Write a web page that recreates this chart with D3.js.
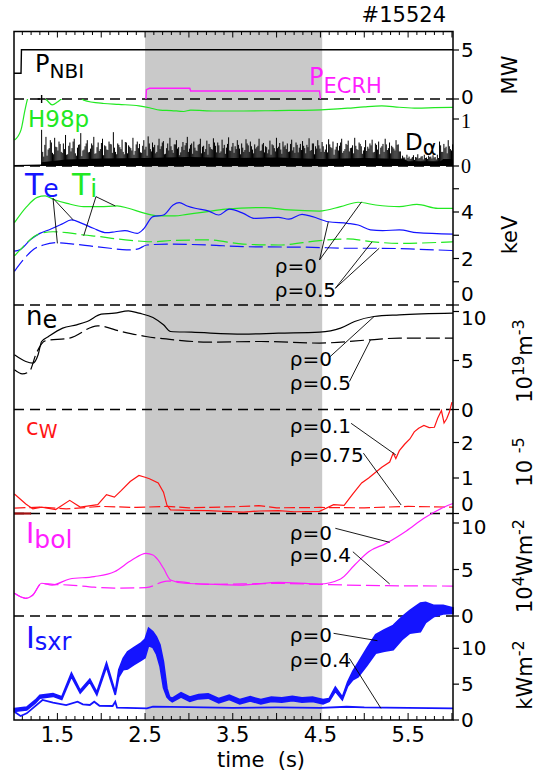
<!DOCTYPE html>
<html>
<head>
<meta charset="utf-8">
<script src="https://cdn.jsdelivr.net/npm/d3@7"></script>
<style>
	body { margin: 0; background: #fff; }
	svg { display: block; }
	text { font-family: "DejaVu Sans", sans-serif; }
</style>
</head>
<body>
<svg id="fig"></svg>
<script>

// ============================================================================== //
// DATA ========================================================================= //
// ============================================================================== //

// heating power (MW)
var pNBI = [[1.005, 2.62], [1.085, 2.62], [1.09, 5.03], [3.0, 5.02], [6.012, 5.02]];
var pECRH = [[2.51, 0], [2.515, 0.95], [2.55, 1.09], [3.01, 1.1], [3.02, 0.82], [4.49, 0.82], [4.5, 0]];

// confinement factor
var h98p = [[1.01, 0.55], [1.085, 0.77], [1.13, 1.19], [1.16, 1.43], [1.2, 1.6], [1.3, 1.5], [1.38, 1.40],
	[1.44, 1.30], [1.5, 1.36], [1.54, 1.42], [1.6, 1.5], [1.7, 1.5], [1.78, 1.43], [1.80, 1.40], [2.03, 1.33],
	[2.2, 1.31], [2.43, 1.28], [2.55, 1.24], [2.67, 1.19], [2.8, 1.18], [2.94, 1.16], [3.02, 1.19], [3.3, 1.17],
	[3.62, 1.17], [4.0, 1.18], [4.42, 1.19], [4.81, 1.23], [5.0, 1.26], [5.20, 1.28], [5.4, 1.25], [5.60, 1.23],
	[5.8, 1.24], [6.012, 1.25]];

// D-alpha spikes (a.u.), from 1.32 s every 0.0248 s, second set half a step later
var dalphaStart = 1.32, dalphaStep = 0.0248;
var dalpha = [77, 20, 62, 35, 55, 28, 60, 40, 52, 30,
	48, 66, 25, 50, 38, 58, 22, 45, 70, 33,
	42, 55, 30, 48, 62, 27, 50, 36, 58, 44,
	35, 52, 46, 72, 30, 48, 40, 56, 25, 50,
	44, 38, 60, 32, 52, 47, 28, 55, 41, 63,
	36, 50, 45, 30, 58, 42, 53, 26, 48, 60,
	34, 46, 55, 40, 29, 51, 44, 62, 37, 48,
	52, 33, 45, 58, 41, 30, 54, 47, 36, 59,
	43, 50, 28, 56, 45, 39, 61, 32, 49, 42,
	55, 37, 48, 30, 57, 44, 52, 35, 46, 40,
	58, 33, 49, 42, 27, 54, 46, 38, 60, 41,
	35, 52, 44, 48, 31, 56, 40, 50, 29, 47,
	53, 38, 45, 59, 34, 48, 42, 55, 37, 51,
	30, 46, 57, 40, 52, 35, 49, 43, 58, 32,
	47, 54, 38, 44, 60, 36, 50, 42, 33, 55,
	41, 48, 56, 30, 45, 52, 39, 47, 58, 34,
	50, 43, 37, 55, 46, 31, 22, 18, 24, 20,
	16, 23, 19, 25, 17, 21, 24, 18, 22, 20,
	23, 19, 24, 52, 30, 47, 41, 55, 36, 46].map(d => d / 100);
var dalpha2 = [30, 45, 22, 38, 50, 25, 41, 33, 47, 28,
	36, 24, 43, 31, 52, 27, 39, 46, 21, 35,
	48, 29, 37, 44, 26, 40, 32, 49, 23, 42,
	34, 47, 28, 39, 25, 45, 36, 30, 51, 27,
	41, 33, 24, 46, 38, 29, 43, 35, 22, 48,
	31, 40, 27, 44, 36, 50, 25, 38, 33, 42,
	28, 46, 37, 23, 41, 34, 49, 30, 45, 26,
	39, 32, 47, 27, 43, 36, 24, 40, 35, 50,
	29, 44, 31, 38, 26, 47, 33, 41, 28, 36,
	45, 25, 39, 34, 48, 30, 42, 27, 37, 43,
	32, 46, 29, 40, 35, 24, 44, 31, 38, 49,
	26, 41, 36, 30, 47, 33, 28, 45, 39, 34,
	43, 27, 40, 32, 48, 25, 37, 44, 30, 42,
	35, 29, 46, 38, 24, 41, 33, 50, 28, 36,
	45, 31, 39, 27, 43, 34, 47, 26, 40, 32,
	37, 44, 29, 48, 35, 25, 42, 30, 46, 38,
	27, 40, 33, 45, 31, 16, 18, 14, 17, 15,
	19, 13, 18, 16, 20, 14, 17, 15, 19, 16,
	18, 14, 17, 44, 30, 38, 27, 42, 33].map(d => d / 100);
var dalphaFloor = [[1.005, 0.02], [1.315, 0.03], [1.32, 0.08], [1.6, 0.14], [2.0, 0.16], [2.5, 0.17], [3.0, 0.19],
	[3.5, 0.17], [4.0, 0.18], [4.5, 0.15], [5.0, 0.17], [5.45, 0.15], [5.5, 0.1], [5.87, 0.1], [5.9, 0.15], [6.012, 0.15]];

// temperatures (keV)
var tiCore = [[1.01, 3.54], [1.15, 4.23], [1.27, 4.63], [1.36, 4.69], [1.45, 4.55], [1.61, 4.37], [1.80, 4.23],
	[1.99, 4.23], [2.18, 4.26], [2.31, 4.16], [2.50, 3.94], [2.65, 3.83], [2.84, 3.83], [2.98, 3.90],
	[3.15, 3.98], [3.42, 4.12], [3.86, 4.19], [4.14, 4.09], [4.49, 4.04], [4.73, 4.23], [4.93, 4.42],
	[5.13, 4.30], [5.40, 4.23], [5.60, 4.33], [5.84, 4.16], [6.012, 4.16]];
var teCore = [[1.01, 2.32], [1.07, 2.37], [1.19, 2.80], [1.30, 3.08], [1.42, 3.26], [1.55, 3.48], [1.66, 3.66],
	[1.78, 3.51], [1.91, 3.30], [2.06, 3.11], [2.16, 3.15], [2.27, 3.20], [2.41, 3.08], [2.48, 3.26],
	[2.59, 3.80], [2.71, 3.87], [2.82, 4.30], [2.89, 4.40], [2.98, 4.26], [3.07, 4.16], [3.22, 4.05],
	[3.34, 3.87], [3.46, 4.12], [3.62, 3.94], [3.74, 3.73], [4.02, 3.77], [4.14, 3.69], [4.29, 3.90],
	[4.41, 3.80], [4.59, 3.58], [4.81, 3.51], [4.93, 3.44], [5.07, 3.23], [5.21, 3.20], [5.40, 3.23],
	[5.60, 3.11], [6.012, 3.05]];
var tiMid = [[1.01, 2.11], [1.11, 2.51], [1.23, 2.94], [1.34, 3.11], [1.45, 3.15], [1.61, 3.11], [1.80, 3.01],
	[1.99, 2.94], [2.18, 2.84], [2.37, 2.77], [2.56, 2.72], [2.83, 2.78], [3.22, 2.80], [3.62, 2.62],
	[4.02, 2.58], [4.49, 2.77], [4.81, 2.84], [5.09, 2.72], [5.40, 2.65], [6.012, 2.72]];
var teMid = [[1.01, 1.45], [1.11, 1.94], [1.23, 2.40], [1.34, 2.58], [1.49, 2.68], [1.68, 2.62], [1.87, 2.54],
	[2.10, 2.44], [2.29, 2.37], [2.41, 2.40], [2.52, 2.58], [2.75, 2.62], [3.22, 2.58], [3.62, 2.51],
	[4.41, 2.48], [4.81, 2.44], [5.17, 2.44], [5.60, 2.40], [6.012, 2.34]];

// density (1e19 m^-3)
var neCore = [[1.01, 5.58], [1.14, 4.90], [1.22, 4.73], [1.28, 5.58], [1.32, 6.94], [1.40, 7.45], [1.56, 8.30],
	[1.72, 8.64], [1.84, 8.98], [2.0, 9.73], [2.15, 9.83], [2.31, 10.07], [2.43, 9.83], [2.59, 9.39],
	[2.71, 8.64], [2.79, 7.96], [3.03, 7.89], [3.62, 7.69], [4.02, 7.79], [4.49, 7.89], [4.73, 8.30],
	[4.89, 8.98], [5.11, 9.49], [5.40, 9.66], [6.012, 9.83]];
var neMid = [[1.01, 4.05], [1.10, 3.64], [1.18, 3.88], [1.26, 5.75], [1.36, 7.01], [1.64, 7.29], [1.96, 8.54],
	[2.23, 7.96], [2.51, 7.45], [2.83, 7.11], [3.22, 6.88], [3.82, 6.94], [4.49, 6.78], [5.07, 7.11],
	[5.40, 7.29], [6.012, 7.29]];

// tungsten concentration (1e-5)
var cwCore = [[1.01, 0.55], [1.14, 0.27], [1.22, 0.13], [1.32, 0.18], [1.48, 0.11], [1.64, 0.37], [1.76, 0.18],
	[1.96, 0.25], [2.06, 0.53], [2.15, 0.46], [2.23, 0.65], [2.33, 0.9], [2.43, 1.07], [2.50, 1.02],
	[2.55, 0.98], [2.65, 0.86], [2.71, 0.6], [2.75, 0.23], [2.79, 0.10], [3.0, 0.09], [3.22, 0.08],
	[3.4, 0.06], [3.62, 0.04], [3.8, 0.07], [4.02, 0.08], [4.2, 0.05], [4.49, 0.06], [4.65, 0.25],
	[4.77, 0.23], [4.87, 0.55], [4.97, 0.86], [5.05, 1.0], [5.13, 1.16], [5.2, 1.3], [5.29, 1.45],
	[5.33, 1.7], [5.36, 1.55], [5.40, 1.77], [5.46, 1.95], [5.52, 2.10], [5.57, 2.3], [5.62, 2.4],
	[5.68, 2.48], [5.74, 2.42], [5.80, 2.43], [5.84, 2.7], [5.88, 2.90], [5.91, 2.55], [5.94, 2.67],
	[5.97, 2.85], [6.0, 3.14]];
var cwEdge = [[1.01, 0.15], [1.3, 0.18], [1.6, 0.13], [2.0, 0.2], [2.4, 0.17], [2.75, 0.2], [3.0, 0.16],
	[3.5, 0.19], [3.8, 0.22], [4.0, 0.16], [4.5, 0.17], [5.0, 0.16], [5.5, 0.2], [6.012, 0.18]];

// bolometer (1e4 W m^-2)
var bolCore = [[1.01, 2.44], [1.14, 1.90], [1.22, 2.26], [1.32, 3.52], [1.44, 3.33], [1.64, 3.98], [1.92, 4.23],
	[2.15, 4.76], [2.35, 6.02], [2.51, 6.74], [2.59, 6.56], [2.65, 6.0], [2.71, 5.13], [2.79, 3.87],
	[2.95, 3.52], [3.3, 3.4], [3.62, 3.33], [4.02, 3.62], [4.49, 3.44], [4.73, 3.98], [4.89, 5.48],
	[5.05, 6.91], [5.25, 7.81], [5.48, 9.14], [5.68, 10.5], [5.92, 11.75], [6.012, 12.1]];
var bolMid = [[1.01, 2.44], [1.14, 1.90], [1.22, 2.26], [1.32, 3.5], [1.45, 3.4], [1.64, 3.33], [1.92, 3.1],
	[2.15, 3.0], [2.51, 3.05], [2.75, 3.76], [3.22, 3.40], [4.02, 3.5], [4.49, 3.40], [4.8, 3.33],
	[5.25, 3.26], [6.012, 3.22]];

// soft X-ray (kW m^-2): [time, value, half-width of the fast oscillation]
var sxrCore = [[1.01, 1.4, 0.2], [1.15, 1.6, 0.2], [1.25, 2.6, 0.2], [1.30, 3.25, 0.2], [1.45, 3.5, 0.2],
	[1.55, 3.05, 0.2], [1.66, 6.3, 0.25], [1.76, 3.95, 0.2], [1.87, 5.5, 0.2], [1.95, 3.7, 0.2],
	[2.06, 7.7, 0.3], [2.16, 3.7, 0.2], [2.2, 6.5, 0.5], [2.25, 7.8, 0.8], [2.3, 8.3, 1.2], [2.37, 8.9, 1.2],
	[2.45, 9.5, 1.2], [2.50, 10.0, 1.3], [2.54, 11.6, 1.2], [2.59, 11.2, 1.1], [2.63, 10.4, 1.2],
	[2.67, 9.0, 1.5], [2.71, 6.3, 1.8], [2.75, 3.8, 0.6], [2.78, 3.0, 0.2], [2.81, 2.8, 0.25],
	[2.91, 3.5, 0.3], [3.01, 2.9, 0.3], [3.11, 3.25, 0.3], [3.22, 3.35, 0.3], [3.34, 2.7, 0.3],
	[3.46, 3.16, 0.3], [3.58, 2.55, 0.3], [3.70, 2.95, 0.3], [3.82, 2.55, 0.3], [3.94, 2.9, 0.3],
	[4.06, 2.8, 0.3], [4.18, 3.0, 0.3], [4.29, 2.8, 0.3], [4.41, 2.9, 0.3], [4.53, 2.55, 0.3],
	[4.6, 2.8, 0.2], [4.67, 4.3, 0.3], [4.75, 3.0, 0.2], [4.81, 5.0, 0.3], [4.87, 6.2, 0.6],
	[4.93, 7.0, 1.0], [5.03, 8.8, 1.2], [5.13, 10.6, 1.3], [5.23, 11.1, 1.5], [5.33, 11.5, 1.7],
	[5.43, 12.8, 1.6], [5.52, 13.7, 1.6], [5.58, 14.0, 1.8], [5.64, 14.3, 2.0], [5.70, 15.0, 1.4],
	[5.79, 15.2, 0.8], [5.9, 15.4, 0.6], [6.012, 15.25, 0.4]];
var sxrMid = [[1.01, 1.16], [1.08, 0.56], [1.15, 0.93], [1.33, 2.79], [1.45, 2.41], [1.60, 2.09], [1.73, 2.55],
	[1.79, 2.19], [1.87, 2.09], [1.92, 2.55], [1.98, 1.99], [2.13, 1.95], [2.16, 2.55], [2.18, 1.72],
	[2.52, 1.63], [2.59, 1.86], [3.0, 1.8], [3.5, 1.7], [4.0, 1.75], [4.5, 1.7], [4.8, 1.85], [5.0, 1.75],
	[5.5, 1.7], [6.012, 1.63]];

// ECRH window (s)
var ecrhWindow = [2.5, 4.52];

// axis ticks; "shift" nudges a label off its neighbour in the next panel
var timeLabels = [1.5, 2.5, 3.5, 4.5, 5.5];
var rightTicks = [
	{panel: "P", values: [0, 5], minor: [], shift: {0: -2}},
	{panel: "H", values: [0, 1], minor: [], serif: true, shift: {1: 2}},
	{panel: "T", values: [0, 2, 4], minor: [1, 3, 5], shift: {0: -11}},
	{panel: "N", values: [0, 5, 10], minor: [], shift: {10: 6}},
	{panel: "C", values: [0, 1, 2], minor: [], shift: {0: -10}},
	{panel: "B", values: [0, 5, 10], minor: [], shift: {10: 3.5}},
	{panel: "S", values: [0, 5, 10], minor: [], shift: {}}
];

// radius annotations: label anchor and leader lines, in data units of the panel
var rhoLabels = [
	{panel: "T", t: 3.98, v: 1.38, text: "\u03c1=0", from: [4.49, 1.94], to: [[4.59, 3.58], [4.97, 4.44]]},
	{panel: "T", t: 3.98, v: 0.36, text: "\u03c1=0.5", from: [4.67, 0.72], to: [[5.09, 2.72], [5.17, 2.44]]},
	{panel: "N", t: 4.15, v: 4.47, text: "\u03c1=0", from: [4.61, 5.39], to: [[5.11, 9.47]]},
	{panel: "N", t: 4.15, v: 1.99, text: "\u03c1=0.5", from: [4.83, 2.84], to: [[5.07, 7.09]]},
	{panel: "C", t: 4.15, v: 2.26, text: "\u03c1=0.1", from: [4.85, 2.54], to: [[5.36, 1.65]]},
	{panel: "C", t: 4.15, v: 1.46, text: "\u03c1=0.75", from: [4.99, 1.70], to: [[5.42, 0.24]]},
	{panel: "B", t: 4.15, v: 8.17, text: "\u03c1=0", from: [4.67, 9.43], to: [[5.29, 7.92]]},
	{panel: "B", t: 4.15, v: 5.84, text: "\u03c1=0.4", from: [4.87, 6.91], to: [[5.29, 3.44]]},
	{panel: "S", t: 4.15, v: 10.92, text: "\u03c1=0", from: [4.65, 12.09], to: [[5.15, 11.06]]},
	{panel: "S", t: 4.15, v: 7.43, text: "\u03c1=0.4", from: [4.83, 8.61], to: [[5.19, 1.63]]}
];
var species = [
	{panel: "T", from: [1.45, 4.59], to: [[1.68, 3.66], [1.50, 2.65]]},
	{panel: "T", from: [1.94, 4.66], to: [[2.16, 4.26], [1.80, 2.98]]}
];

// ============================================================================== //
// SETUP ======================================================================== //
// ============================================================================== //

var width = 545, height = 778,
	xL = 14, xR = 453, yTop = 31.5, yBot = 720;

var blue = "#1414ff", green = "#22e822", red = "#ff1414", magenta = "#ff1eff";

var svg = d3.select("#fig").attr("width", width).attr("height", height);

var x = d3.scaleLinear().domain([1.005, 6.012]).range([xL, xR]);

var ys = {
	P: d3.scaleLinear().domain([0, 5]).range([99, 50]),
	H: d3.scaleLinear().domain([0, 1]).range([166, 119]),
	T: d3.scaleLinear().domain([0, 4]).range([305, 212]),
	N: d3.scaleLinear().domain([0, 10]).range([409.5, 311.5]),
	C: d3.scaleLinear().domain([0, 2]).range([513.5, 442.5]),
	B: d3.scaleLinear().domain([0, 10]).range([616, 523]),
	S: d3.scaleLinear().domain([0, 10]).range([720, 648.3])
};

function lineFor(p, curve) {
	return d3.line()
		.x(d => x(d[0]))
		.y(d => ys[p](d[1]))
		.curve(curve || d3.curveMonotoneX);
}

function drawLine(data, p, color, opts) {
	opts = opts || {};
	return svg.append("path")
		.datum(data)
		.attr("d", lineFor(p, opts.curve))
		.attr("fill", "none")
		.attr("stroke", color)
		.attr("stroke-width", opts.width || 1.2)
		.attr("stroke-dasharray", opts.dash || null)
		.attr("clip-path", opts.clip || null);
}

// ============================================================================== //
// DRAW ========================================================================= //
// ============================================================================== //

// ECRH shading
svg.append("rect")
	.attr("x", x(ecrhWindow[0]))
	.attr("y", yTop)
	.attr("width", x(ecrhWindow[1]) - x(ecrhWindow[0]))
	.attr("height", yBot - yTop)
	.attr("fill", "#c9c9c9");

// panel zero lines (dashed)
["P", "H", "T", "N", "C", "B"].forEach(function(p) {
	svg.append("line")
		.attr("x1", xL).attr("x2", xR)
		.attr("y1", ys[p](0)).attr("y2", ys[p](0))
		.attr("stroke", "#000")
		.attr("stroke-width", 1.6)
		.attr("stroke-dasharray", "10,6");
});

// clip for H98p panel
svg.append("clipPath").attr("id", "clipH")
	.append("rect")
	.attr("x", xL).attr("y", ys.P(0))
	.attr("width", xR - xL).attr("height", ys.H(0) - ys.P(0));

// --- heating
drawLine(pNBI, "P", "#000", {curve: d3.curveLinear, width: 1.4});
drawLine(pECRH, "P", magenta, {curve: d3.curveLinear, width: 1.4});

// --- H98p and D-alpha
svg.append("path")
	.datum(dalphaFloor)
	.attr("d", d3.area().x(d => x(d[0])).y0(ys.H(0)).y1(d => ys.H(d[1])))
	.attr("fill", "#000");

var daPath = "";
dalpha.forEach(function(v, i) {
	let t = dalphaStart + i * dalphaStep;
	daPath += " M " + x(t) + " " + ys.H(0) + " L " + x(t) + " " + ys.H(v);
});
dalpha2.forEach(function(v, i) {
	let t = dalphaStart + (i + 0.5) * dalphaStep;
	daPath += " M " + x(t) + " " + ys.H(0) + " L " + x(t) + " " + ys.H(v);
});
svg.append("path")
	.attr("d", daPath)
	.attr("stroke", "#000")
	.attr("stroke-width", 1)
	.attr("fill", "none");

drawLine(h98p, "H", green, {clip: "url(#clipH)"});

// H98p marker
svg.append("path")
	.attr("d", `M ${x(1.32) - 4} ${ys.P(0)} L ${x(1.32) + 4} ${ys.P(0)} M ${x(1.32)} ${ys.P(0) - 4} L ${x(1.32)} ${ys.P(0) + 4}`)
	.attr("stroke", "#000")
	.attr("stroke-width", 1.4);

// --- temperatures
drawLine(tiCore, "T", green);
drawLine(teCore, "T", blue);
drawLine(tiMid, "T", green, {dash: "14,5"});
drawLine(teMid, "T", blue, {dash: "14,5"});

// --- density
drawLine(neCore, "N", "#000");
drawLine(neMid, "N", "#000", {dash: "14,5"});

// --- tungsten
svg.append("line")
	.attr("x1", x(1.005)).attr("x2", x(1.2))
	.attr("y1", ys.C(0)).attr("y2", ys.C(0))
	.attr("stroke", "#a01010").attr("stroke-width", 2.2);
drawLine(cwEdge, "C", red, {dash: "11,4", curve: d3.curveLinear});
drawLine(cwCore, "C", red, {curve: d3.curveLinear});

// --- bolometer
drawLine(bolMid, "B", magenta, {dash: "14,5"});
drawLine(bolCore, "B", magenta);

// --- soft X-ray
drawLine(sxrMid, "S", blue, {width: 1.8, curve: d3.curveLinear});
svg.append("path")
	.datum(sxrCore)
	.attr("d", d3.area()
		.x(d => x(d[0]))
		.y0(d => ys.S(d[1] - d[2]))
		.y1(d => ys.S(d[1] + d[2])))
	.attr("fill", blue)
	.attr("stroke", blue)
	.attr("stroke-width", 1.6);

// --- frame
svg.append("rect")
	.attr("x", xL).attr("y", yTop)
	.attr("width", xR - xL).attr("height", yBot - yTop)
	.attr("fill", "none")
	.attr("stroke", "#000")
	.attr("stroke-width", 1.5);

// time ticks, top and bottom, every 0.1 s
var timeTicks = d3.range(11, 61).map(d => d / 10);
timeTicks.forEach(function(t) {
	let major = Math.round(t * 10) % 5 == 0;
	svg.append("line")
		.attr("x1", x(t)).attr("x2", x(t))
		.attr("y1", yTop).attr("y2", yTop + (major ? 6 : 3.5))
		.attr("stroke", "#000").attr("stroke-width", 1);
	svg.append("line")
		.attr("x1", x(t)).attr("x2", x(t))
		.attr("y1", yBot).attr("y2", yBot - (major ? 7 : 4))
		.attr("stroke", "#000").attr("stroke-width", 1);
});

svg.append("g")
	.selectAll("text")
	.data(timeLabels)
	.enter()
	.append("text")
	.attr("x", d => x(d))
	.attr("y", 742)
	.attr("text-anchor", "middle")
	.style("font-size", "21px")
	.text(d => d);

svg.append("text")
	.attr("x", 261)
	.attr("y", 767)
	.attr("text-anchor", "middle")
	.style("font-size", "21px")
	.text("time\u00a0\u00a0(s)");

svg.append("text")
	.attr("x", 446)
	.attr("y", 22)
	.attr("text-anchor", "end")
	.style("font-size", "21px")
	.text("#15524");

// right axis ticks and labels
rightTicks.forEach(function(r) {
	let s = ys[r.panel];
	r.values.forEach(function(v) {
		svg.append("line")
			.attr("x1", xR).attr("x2", xR + 6)
			.attr("y1", s(v)).attr("y2", s(v))
			.attr("stroke", "#000").attr("stroke-width", 1.2);
		svg.append("text")
			.attr("x", xR + 8)
			.attr("y", s(v) + (r.shift[v] || 0))
			.attr("dominant-baseline", "central")
			.style("font-size", "20px")
			.style("font-family", r.serif ? "'Liberation Serif', serif" : null)
			.text(v);
	});
	r.minor.forEach(function(v) {
		svg.append("line")
			.attr("x1", xR).attr("x2", xR + 6)
			.attr("y1", s(v)).attr("y2", s(v))
			.attr("stroke", "#000").attr("stroke-width", 1.2);
	});
});

// units, rotated
function unitLabel(bx, cy, parts) {
	let t = svg.append("text")
		.attr("transform", `translate(${bx},${cy}) rotate(-90)`)
		.attr("text-anchor", "middle")
		.style("font-size", "21px");
	let raised = false;
	parts.forEach(function(p) {
		let sp = t.append("tspan").text(p[0]);
		if (p[1] && !raised) { sp.attr("dy", -8).style("font-size", "16px"); raised = true; }
		else if (!p[1] && raised) { sp.attr("dy", 8); raised = false; }
		else if (p[1]) { sp.style("font-size", "16px"); }
	});
}
unitLabel(517, 75, [["MW"]]);
unitLabel(517, 235, [["keV"]]);
unitLabel(532, 361, [["10"], ["19", 1], ["m"], ["-3", 1]]);
unitLabel(532, 462, [["10\u00a0"], ["-5", 1]]);
unitLabel(532, 566, [["10"], ["4", 1], ["Wm"], ["-2", 1]]);
unitLabel(532, 675, [["kWm"], ["-2", 1]]);

// panel labels with subscripts
function subLabel(lx, ly, main, sub, color, mainSize, subSize, dy) {
	let t = svg.append("text")
		.attr("x", lx).attr("y", ly)
		.attr("fill", color);
	t.append("tspan").style("font-size", mainSize + "px").text(main);
	if (sub) t.append("tspan").attr("dy", dy).style("font-size", subSize + "px").text(sub);
}
subLabel(35, 72, "P", "NBI", "#000", 24, 20, 6);
subLabel(309, 85, "P", "ECRH", magenta, 24, 21, 8);
subLabel(28, 127, "H98p", null, green, 23);
subLabel(405, 150, "D", "\u03b1", "#000", 23, 21, 5);
subLabel(25, 195, "T", "e", blue, 30, 25, 2);
subLabel(72, 195, "T", "i", green, 30, 25, 2);
subLabel(26, 325, "n", "e", "#000", 26, 24, 3);
subLabel(26, 435, "c", "W", red, 23, 19, 3);
subLabel(26, 543, "I", "bol", magenta, 28, 25, 5);
subLabel(26, 648, "I", "sxr", blue, 30, 24, 2);

// leader lines
species.concat(rhoLabels).forEach(function(a) {
	let s = ys[a.panel];
	a.to.forEach(function(pt) {
		svg.append("line")
			.attr("x1", x(a.from[0])).attr("y1", s(a.from[1]))
			.attr("x2", x(pt[0])).attr("y2", s(pt[1]))
			.attr("stroke", "#000").attr("stroke-width", 0.9);
	});
});

svg.append("g")
	.selectAll("text")
	.data(rhoLabels)
	.enter()
	.append("text")
	.attr("x", d => x(d.t))
	.attr("y", d => ys[d.panel](d.v))
	.style("font-size", "20px")
	.text(d => d.text);

</script>
</body>
</html>
